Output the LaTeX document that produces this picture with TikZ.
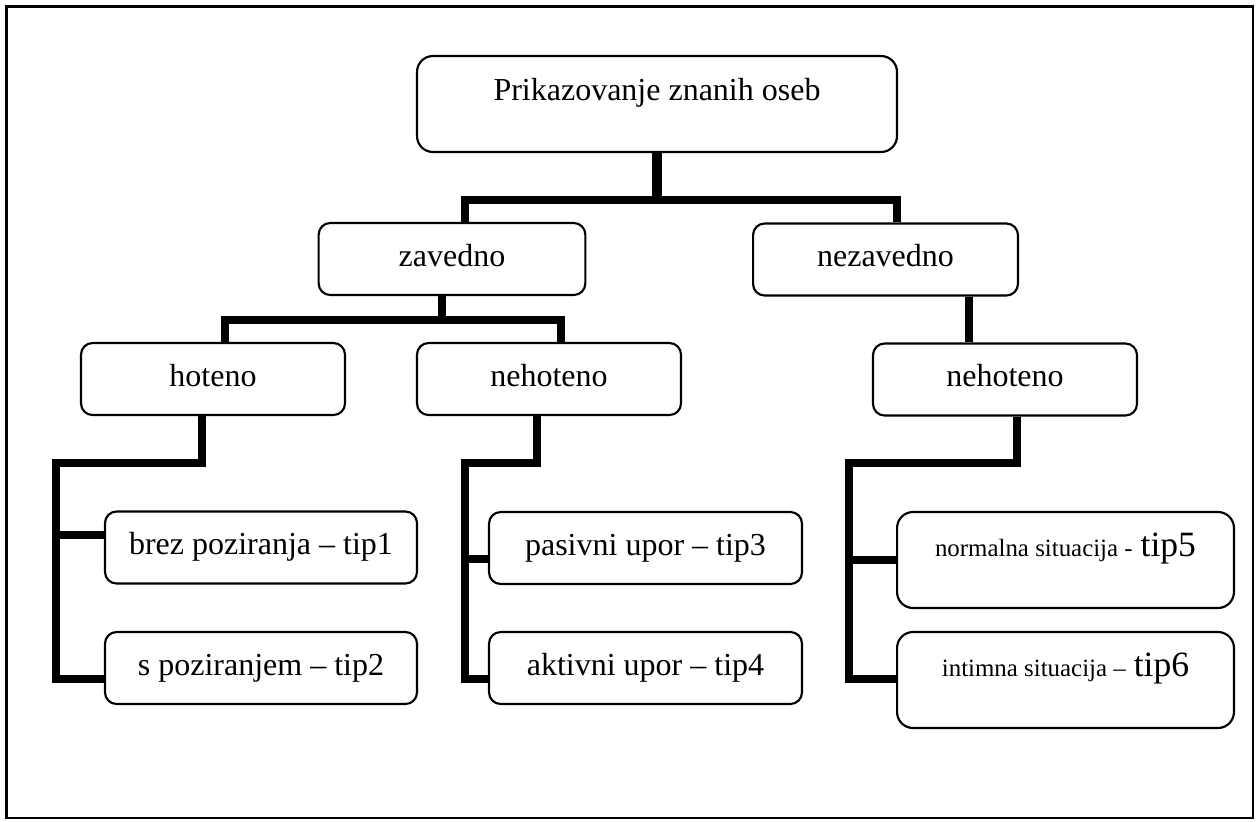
\documentclass[tikz,border=0pt]{standalone}
\usepackage{fontspec}
\setmainfont{Liberation Serif}
\usetikzlibrary{positioning,calc}
\tikzset{
	box/.style={draw, line width=1.2pt, rounded corners=6.5pt, inner sep=0pt,
		minimum height=40.5pt, text height=12pt, text depth=4pt,
		font=\fontsize{18pt}{20pt}\selectfont},
	tallbox/.style={box, rounded corners=9pt, minimum height=54pt, text depth=16pt},
	conn/.style={line width=4.3pt, line join=miter}
}
\newcommand{\smtxt}[1]{{\fontsize{14pt}{16pt}\selectfont #1}}
\newcommand{\bigtip}[1]{{\fontsize{20pt}{22pt}\selectfont #1}}

\begin{document}
\begin{tikzpicture}[x=0.5625pt, y=-0.5625pt]
	\useasboundingbox (0,0) rectangle (1259,821);
	\draw[line width=1.5pt] (6.5,6.5) rectangle (1253,818);
	
	\node[tallbox, minimum width=270pt] (top) at (657,104) {Prikazovanje znanih oseb};
	\node[box, minimum width=150pt] (zav) at (452,259) {zavedno};
	\node[box, minimum width=149pt] (nezav) at (885.5,259.5) {nezavedno};
	\node[box, minimum width=148.5pt] (hot) at (213,379) {hoteno};
	\node[box, minimum width=148.5pt] (neh) at (549,379) {nehoteno};
	\node[box, minimum width=148.5pt] (nehb) at (1005,379.5) {nehoteno};
	\node[box, minimum width=175.5pt] (t1) at (261,547.5) {brez poziranja – tip1};
	\node[box, minimum width=175.5pt] (t2) at (261,668) {s poziranjem – tip2};
	\node[box, minimum width=176pt] (t3) at (645.5,548) {pasivni upor – tip3};
	\node[box, minimum width=176pt] (t4) at (645.5,668) {aktivni upor – tip4};
	\node[tallbox, minimum width=189.5pt] (t5) at (1065.5,560) {\smtxt{normalna situacija -} \bigtip{tip5}};
	\node[tallbox, minimum width=189.5pt] (t6) at (1065.5,680) {\smtxt{intimna situacija –} \bigtip{tip6}};
	
	% elbow points
	\coordinate (j0l) at (465,200);
	\coordinate (j0r) at (897,200);
	\coordinate (j1) at (442,320);
	\coordinate (j1l) at (225,320);
	\coordinate (j1r) at (561,320);
	\coordinate (j2) at (969,300);
	\coordinate (a1) at (202,463);
	\coordinate (a2) at (56,463);
	\coordinate (a3) at (56,535);
	\coordinate (a4) at (56,679);
	\coordinate (b1) at (537,463);
	\coordinate (b2) at (465,463);
	\coordinate (b3) at (465,559);
	\coordinate (b4) at (465,679);
	\coordinate (c1) at (1017,463);
	\coordinate (c2) at (849,463);
	\coordinate (c3) at (849,560);
	\coordinate (c4) at (849,679);
	
	\draw[conn, line width=5.5pt] (top.south) -- (top.south |- j0l);
	\draw[conn] (zav.north -| j0l) -- (j0l) -- (j0r) -- (nezav.north -| j0r);
	\draw[conn] (zav.south -| j1) -- (j1);
	\draw[conn] (hot.north -| j1l) -- (j1l) -- (j1r) -- (neh.north -| j1r);
	\draw[conn] (nezav.south -| j2) -- (nehb.north -| j2);
	
	\draw[conn] (hot.south -| a1) -- (a1) -- (a2) -- (a4) -- (t2.west |- a4);
	\draw[conn] (a3) -- (t1.west |- a3);
	\draw[conn] (neh.south -| b1) -- (b1) -- (b2) -- (b4) -- (t4.west |- b4);
	\draw[conn] (b3) -- (t3.west |- b3);
	\draw[conn] (nehb.south -| c1) -- (c1) -- (c2) -- (c4) -- (t6.west |- c4);
	\draw[conn] (c3) -- (t5.west |- c3);
\end{tikzpicture}
\end{document}
